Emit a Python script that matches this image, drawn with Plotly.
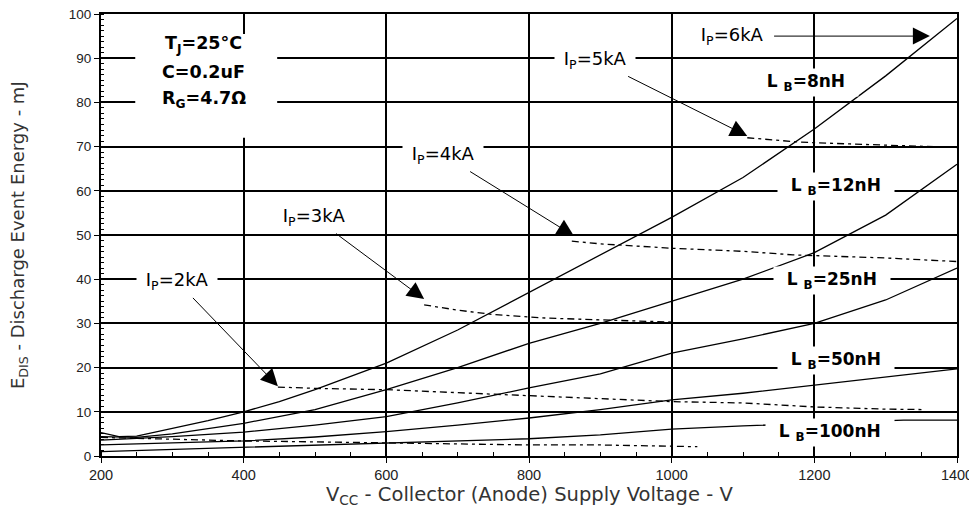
import plotly.graph_objects as go

# ---- Solid curves: constant stray inductance L_B ----
v_8 = [200, 225, 250, 300, 350, 400, 450, 500, 600, 700, 800, 900, 1000, 1100, 1200, 1300, 1400]
e_8 = [5.3, 4.4, 4.5, 6.3, 8.0, 10, 12.3, 15, 21, 28.5, 37, 45.5, 54, 63, 74, 86, 99]

v_12 = [200, 250, 300, 400, 500, 600, 700, 800, 900, 1000, 1100, 1200, 1300, 1400]
e_12 = [4.4, 4.2, 5.0, 7.4, 10.5, 15, 20, 25.5, 30, 35, 40, 46, 54.5, 66]

v_25 = [200, 300, 400, 500, 600, 700, 800, 900, 1000, 1100, 1200, 1300, 1400]
e_25 = [3.6, 4.4, 5.4, 7.0, 8.9, 12, 15.4, 18.6, 23.3, 26.5, 30, 35.3, 42.5]

v_50 = [200, 300, 400, 500, 600, 700, 800, 900, 1000, 1100, 1200, 1300, 1400]
e_50 = [2.5, 2.9, 3.4, 4.3, 5.5, 7.0, 8.6, 10.5, 12.7, 14.2, 16, 17.8, 19.7]

v_100 = [200, 300, 400, 500, 600, 700, 800, 900, 950, 1000, 1100, 1200, 1300, 1325, 1400]
e_100 = [1.0, 1.5, 2.0, 2.5, 3.0, 3.4, 3.9, 4.8, 5.5, 6.1, 6.8, 7.4, 8.0, 8.1, 8.1]

# ---- Dashed curves: constant peak current I_P ----
v_1k = [200, 250, 300, 400, 500, 600, 700, 800, 900, 1000, 1036]
e_1k = [4.2, 4.0, 3.8, 3.4, 3.2, 3.0, 2.8, 2.5, 2.5, 2.2, 2.1]

v_2k = [448, 500, 600, 700, 800, 900, 1000, 1100, 1200, 1300, 1355]
e_2k = [15.6, 15.3, 15.0, 14.3, 13.6, 13.0, 12.3, 12.0, 11.1, 10.6, 10.5]

v_3k = [653, 700, 750, 825, 900, 1000]
e_3k = [34.2, 33.0, 32.0, 31.2, 30.8, 30.3]

v_4k = [860, 900, 1000, 1100, 1170, 1250, 1300, 1400]
e_4k = [48.6, 48.0, 47.0, 46.3, 45.5, 45.0, 44.8, 44.0]

v_5k = [1106, 1180, 1250, 1300, 1400]
e_5k = [72.0, 71.0, 70.6, 70.3, 69.8]

# ---- Labels ----
lb_text = ["L <sub>B</sub>=8nH", "L <sub>B</sub>=12nH", "L <sub>B</sub>=25nH", "L <sub>B</sub>=50nH", "L <sub>B</sub>=100nH"]
lb_v = [1188, 1230, 1225, 1230, 1222]
lb_e = [84.6, 60.9, 39.6, 21.7, 5.4]

ip_text = ["I<sub>P</sub>=2kA", "I<sub>P</sub>=3kA", "I<sub>P</sub>=4kA", "I<sub>P</sub>=5kA", "I<sub>P</sub>=6kA"]
ip_text_v = [306, 498, 680, 893, 1084]
ip_text_e = [39.6, 54.1, 68.1, 89.6, 95.0]
ip_tip_v = [448, 653, 863, 1106, 1362]
ip_tip_e = [15.8, 35.5, 49.8, 72.4, 95.0]

cond_lines = ["T<sub>J</sub>=25°C", "C=0.2uF", "R<sub>G</sub>=4.7Ω"]
cond_v = 344
cond_e = [93.2, 86.9, 80.6]

x_title = "V<sub>CC</sub> - Collector (Anode) Supply Voltage - V"
y_title = "E<sub>DIS</sub> - Discharge Event Energy - mJ"

TICKFONT = "Liberation Sans, Arial, sans-serif"
LABFONT = "DejaVu Sans, Verdana, sans-serif"
NB = "\u00a0"

fig = go.Figure()

for v, e in [(v_8, e_8), (v_12, e_12), (v_25, e_25), (v_50, e_50), (v_100, e_100)]:
    fig.add_trace(go.Scatter(x=v, y=e, mode="lines", line=dict(color="black", width=1.3),
                             showlegend=False, hoverinfo="skip"))

for v, e in [(v_1k, e_1k), (v_2k, e_2k), (v_3k, e_3k), (v_4k, e_4k), (v_5k, e_5k)]:
    fig.add_trace(go.Scatter(x=v, y=e, mode="lines",
                             line=dict(color="black", width=1.3, dash="7px,4px,3px,4px"),
                             showlegend=False, hoverinfo="skip"))

# white box behind the conditions text
fig.add_shape(type="rect", x0=248, x1=447, y0=72, y1=95.5, xref="x", yref="y",
              fillcolor="white", line=dict(width=0), layer="above")
for t, e in zip(cond_lines, cond_e):
    fig.add_annotation(x=cond_v, y=e, xref="x", yref="y", text="<b>" + t + "</b>",
                       showarrow=False, font=dict(family=LABFONT, size=17.5, color="black"))

for t, x, y in zip(lb_text, lb_v, lb_e):
    fig.add_annotation(x=x, y=y, xref="x", yref="y",
                       text=NB * 2 + "<b>" + t + "</b>" + NB * 2, showarrow=False,
                       font=dict(family=LABFONT, size=17, color="black"),
                       bgcolor="white", borderpad=2)

for t, tx, ty, px, py in zip(ip_text, ip_text_v, ip_text_e, ip_tip_v, ip_tip_e):
    fig.add_annotation(x=px, y=py, xref="x", yref="y", ax=tx, ay=ty, axref="x", ayref="y",
                       text=NB + t + NB, showarrow=True, arrowhead=2, arrowsize=3.4, arrowwidth=1,
                       arrowcolor="black", standoff=0, startstandoff=2,
                       font=dict(family=LABFONT, size=18, color="black"),
                       bgcolor="white", borderpad=3)

# axis titles as annotations (fixed positions)
fig.add_annotation(x=0.5, y=0, xref="paper", yref="paper", yshift=-39, yanchor="middle",
                   text=x_title, showarrow=False,
                   font=dict(family=LABFONT, size=19.5, color="#333"))
fig.add_annotation(x=0, y=0.5, xref="paper", yref="paper", xshift=-82, xanchor="center",
                   text=y_title, showarrow=False, textangle=-90,
                   font=dict(family=LABFONT, size=18, color="#333"))

fig.update_layout(
    width=969, height=502,
    margin=dict(l=93, r=20, t=6, b=54, autoexpand=False),
    paper_bgcolor="white", plot_bgcolor="white",
    font=dict(family=TICKFONT, size=14, color="#222"),
    showlegend=False,
)
fig.update_xaxes(
    range=[200, 1400], dtick=200, tick0=200, automargin=False, ticklabeloverflow="allow",
    showgrid=True, gridcolor="black", gridwidth=1.8,
    showline=True, linecolor="black", linewidth=2, mirror=True,
    ticks="outside", ticklen=5, tickcolor="black", zeroline=False,
    tickfont=dict(family=TICKFONT, size=14.5, color="#222"),
    minor=dict(dtick=50, ticks="inside", ticklen=4, tickcolor="black", showgrid=False),
)
fig.update_yaxes(
    range=[0, 100], dtick=10, automargin=False, ticklabeloverflow="allow",
    showgrid=True, gridcolor="black", gridwidth=1.8,
    showline=True, linecolor="black", linewidth=2, mirror=True,
    ticks="outside", ticklen=5, tickcolor="black", zeroline=False,
    tickfont=dict(family=TICKFONT, size=13.5, color="#222"),
    minor=dict(dtick=1.25, ticks="inside", ticklen=3, tickcolor="black", showgrid=False),
)

fig.write_html("out.html")
